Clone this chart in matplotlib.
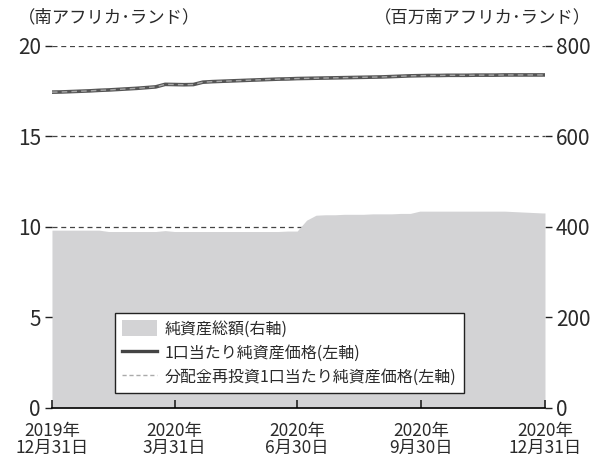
import matplotlib
matplotlib.use('Agg')
from matplotlib import pyplot as plt
from matplotlib.patches import Patch
from matplotlib.lines import Line2D
import numpy as np
import pandas as pd

plt.rcParams['font.family'] = ['Noto Sans CJK JP', 'DejaVu Sans']
plt.rcParams['axes.unicode_minus'] = False

# weekly dates, last one at year end
dates = list(pd.date_range('2019-12-31', periods=53, freq='7D')) + [pd.Timestamp('2020-12-31')]

# 1口当たり純資産価格 (left axis, ZAR)
nav = [17.45, 17.46, 17.48, 17.50, 17.52, 17.55, 17.57, 17.60, 17.63, 17.66,
       17.70, 17.74, 17.88, 17.87, 17.86, 17.87, 18.00, 18.03, 18.05, 18.07,
       18.09, 18.11, 18.13, 18.15, 18.17, 18.18, 18.20, 18.21, 18.22, 18.23,
       18.24, 18.25, 18.26, 18.27, 18.28, 18.29, 18.31, 18.33, 18.35, 18.36,
       18.37, 18.37, 18.38, 18.38, 18.38, 18.39, 18.39, 18.39, 18.40, 18.40,
       18.40, 18.40, 18.40, 18.40]
# 分配金再投資 (same as above, no distributions)
nav_reinv = nav

# 純資産総額 (right axis, million ZAR)
aum = [393, 393, 393, 393, 393, 393, 390, 390, 390, 390,
       390, 390, 392, 390, 390, 390, 390, 390, 390, 390,
       390, 390, 390, 390, 390, 391, 391, 415, 426, 427,
       427, 428, 428, 428, 429, 429, 429, 430, 430, 435,
       435, 435, 435, 435, 435, 435, 435, 435, 435, 434,
       433, 432, 431, 431]

xticks = pd.to_datetime(['2019-12-31', '2020-03-31', '2020-06-30', '2020-09-30', '2020-12-31'])
xlabels = ['2019年\n12月31日', '2020年\n3月31日', '2020年\n6月30日', '2020年\n9月30日', '2020年\n12月31日']

fig = plt.figure(figsize=(5.92, 4.58), dpi=100)
ax = fig.add_axes([0.0878, 0.1092, 0.8328, 0.7904])
ax2 = ax.twinx()

fill_c = '#d3d3d5'
ax2.fill_between(dates, 0, aum, color=fill_c, lw=0, zorder=2)
ax2.set_ylim(0, 800)
ax2.set_yticks([0, 200, 400, 600, 800])
for v in [200, 400, 600, 800]:
    ax2.axhline(v, color='#444444', lw=0.9, ls=(0, (4, 3)), zorder=1)

ax.set_zorder(ax2.get_zorder() + 1)
ax.patch.set_visible(False)
ax.plot(dates, nav, color='#555555', lw=2.6, solid_capstyle='butt', zorder=3)
ax.plot(dates, nav_reinv, color='#a8a8a8', lw=1.0, ls=(0, (4, 3)), zorder=4)
ax.set_ylim(0, 20)
ax.set_yticks([0, 5, 10, 15, 20])
ax.set_xlim(dates[0], dates[-1])
ax.set_xticks(xticks)
ax.set_xticklabels(xlabels, linespacing=0.9)

for a in (ax, ax2):
    for s in ['top', 'left', 'right', 'bottom']:
        a.spines[s].set_visible(False)
ax.spines['bottom'].set_visible(True)
ax.spines['bottom'].set_linewidth(1.2)

txt_c = '#2a2a2a'
ax.tick_params(axis='x', direction='in', length=6, width=1.2, labelsize=12.5, pad=10,
               color='#222222', labelcolor=txt_c)
ax.tick_params(axis='y', direction='out', length=5, width=1, labelsize=15, pad=3,
               color='#222222', labelcolor=txt_c)
ax2.tick_params(axis='y', direction='out', length=5, width=1, labelsize=15, pad=3,
                color='#222222', labelcolor=txt_c)

fig.text(0.03, 0.962, '（南アフリカ･ランド）', fontsize=12.5, ha='left', va='center', color=txt_c)
fig.text(0.998, 0.962, '（百万南アフリカ･ランド）', fontsize=12.5, ha='right', va='center', color=txt_c)

handles = [Patch(facecolor=fill_c, edgecolor='none'),
           Line2D([], [], color='#444444', lw=2.4),
           Line2D([], [], color='#aaaaaa', lw=1.0, ls=(0, (3, 2)))]
labels = ['純資産総額(右軸)', '1口当たり純資産価格(左軸)', '分配金再投資1口当たり純資産価格(左軸)']
leg = ax.legend(handles, labels, loc='lower left', bbox_to_anchor=(0.128, 0.041),
                borderaxespad=0, fontsize=11.5, frameon=True, fancybox=False,
                edgecolor='#222222', facecolor='white', framealpha=1,
                handlelength=2.2, handleheight=1.1, handletextpad=0.45, labelspacing=0.45,
                borderpad=0.45)
leg.get_frame().set_linewidth(1.0)
for t in leg.get_texts():
    t.set_color(txt_c)

fig.savefig('out.png', dpi=100)
